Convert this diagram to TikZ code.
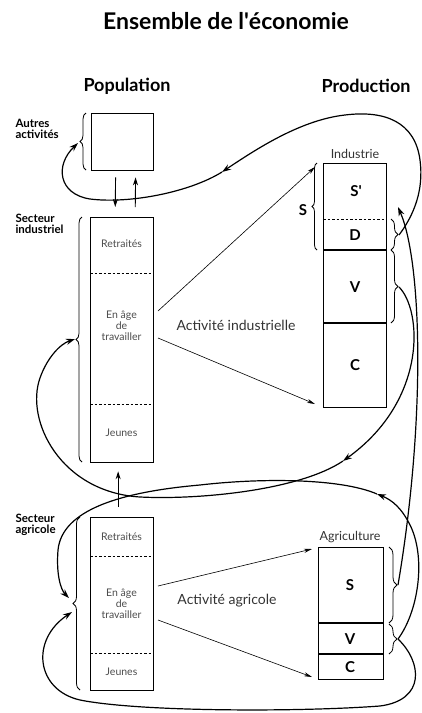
\documentclass[tikz,border=0pt]{standalone}
\usepackage{fontspec}
\setmainfont{Lato}
\usetikzlibrary{arrows.meta,decorations.pathreplacing}

\begin{document}
\begin{tikzpicture}[x=1pt,y=-1pt,
    box/.style={draw,line width=1.3pt,inner sep=0pt,anchor=north west},
    part/.style={font=\fontsize{10.5}{11}\selectfont,text=black!70,align=center},
    letter/.style={font=\fontsize{15}{15}\selectfont\bfseries},
    head/.style={font=\fontsize{18}{18}\selectfont\bfseries},
    sect/.style={font=\fontsize{11.5}{11}\selectfont\bfseries,align=left,anchor=west},
    small/.style={font=\fontsize{12.5}{12.5}\selectfont,text=black!80},
    cut/.style={line width=1pt,dash pattern=on 2.5pt off 2pt},
    brace/.style={decorate,decoration={brace,amplitude=#1},line width=0.8pt},
    flow/.style={line width=1.2pt,-{Stealth[length=9pt,width=6pt]}},
    move/.style={line width=0.9pt,-{Stealth[length=8pt,width=5pt]}},
    act/.style={line width=0.6pt,-{Stealth[length=8pt,width=4pt]}}]

                % Frame
                \useasboundingbox (0,0) rectangle (421,713);

                % Titles
                \node[font=\fontsize{23}{23}\selectfont\bfseries] (title) at (226,21) {Ensemble de l\textquotesingle économie};
                \node[head] (population) at (127,86) {Population};
                \node[head] (production) at (366,86) {Production};

                % Population
                \node[box,minimum width=62pt,minimum height=57pt] (autres) at (91,113) {};
                \node[box,minimum width=63pt,minimum height=245pt] (popind) at (90,217) {};
                \node[box,minimum width=63pt,minimum height=173pt] (popagr) at (90,517) {};
                \draw[cut] (90,273) -- (153,273);
                \draw[cut] (90,404) -- (153,404);
                \draw[cut] (90,556) -- (153,556);
                \draw[cut] (90,653) -- (153,653);
                \node[part] (retind) at (121.5,244) {Retraités};
                \node[part] (ageind) at (121.5,326) {En âge\\de\\travailler};
                \node[part] (jeuind) at (121.5,433) {Jeunes};
                \node[part] (retagr) at (121.5,537) {Retraités};
                \node[part] (ageagr) at (121.5,604) {En âge\\de\\travailler};
                \node[part] (jeuagr) at (121.5,672) {Jeunes};
                \node[sect] (lautres) at (12,129) {Autres\\activités};
                \node[sect] (lind) at (12,224) {Secteur\\industriel};
                \node[sect] (lagr) at (12,525) {Secteur\\agricole};
                \draw[brace=6pt] (86,170) -- (86,113);
                \draw[brace=6pt] (82,462) -- (82,217);
                \draw[brace=7pt] (80,690) -- (80,517);

                % Production
                \node[box,minimum width=63pt,minimum height=244pt] (ind) at (323,163) {};
                \node[box,minimum width=65pt,minimum height=132pt] (agr) at (318,547) {};
                \draw[cut] (323,219) -- (386,219);
                \draw[line width=1.3pt] (323,250) -- (386,250);
                \draw[line width=1.3pt] (323,323) -- (386,323);
                \draw[line width=1.3pt] (318,623) -- (383,623);
                \draw[line width=1.3pt] (318,654) -- (383,654);
                \node[small] (lindus) at (355,154) {Industrie};
                \node[small] (lagri) at (350,537) {Agriculture};
                \node[letter] (sp) at (356,191) {S\textquotesingle};
                \node[letter] (d) at (355,235) {D};
                \node[letter] (v) at (355,287) {V};
                \node[letter] (c) at (355,365) {C};
                \node[letter] (sa) at (350,585) {S};
                \node[letter] (va) at (350,639) {V};
                \node[letter] (ca) at (350,667) {C};
                \node[letter] (s) at (303,210) {S};
                \draw[brace=5pt] (317,250) -- (317,163);
                \draw[brace=7pt] (391,219) -- (391,250);
                \draw[brace=7pt] (391,250) -- (391,323);
                \draw[brace=8pt] (389,547) -- (389,623);
                \draw[brace=8pt] (389,624) -- (389,654);

                % Ends of the flows
                \coordinate (auttip) at (78,143);
                \coordinate (indtip) at (75,339);
                \coordinate (agtipa) at (69,598);
                \coordinate (agtipb) at (72,612);
                \coordinate (dtip) at (399,235);
                \coordinate (vtip) at (399,287);
                \coordinate (sin) at (398,207);
                \coordinate (satip) at (398,585);
                \coordinate (vatip) at (398,639);
                \coordinate (m1) at (222,172);
                \coordinate (m2) at (343,461);
                \coordinate (m4) at (377,494);

                % Activities
                \node[font=\fontsize{14}{14}\selectfont,text=black!80] (actind) at (236,325) {Activité industrielle};
                \node[font=\fontsize{14}{14}\selectfont,text=black!80] (actagr) at (227,601) {Activité agricole};
                \draw[act] (158,311) -- (315,167);
                \draw[act] (158,338) -- (315,404);
                \draw[act] (158,586) -- (312,549);
                \draw[act] (158,620) -- (312,677);

                % Moves of population
                \draw[move,shorten <=6pt,shorten >=10pt] ([xshift=-7pt]autres.south) -- ([xshift=-7pt]popind.north);
                \draw[move,shorten <=10pt,shorten >=6pt] ([xshift=13pt]popind.north) -- ([xshift=13pt]autres.south);
                \draw[move,shorten <=10pt,shorten >=8pt] ([xshift=-4pt]popagr.north) -- ([xshift=-4pt]popind.south);

                % Flows
                \draw[flow] (dtip) .. controls (414,215) and (424,190) .. (420,160) .. controls (415,122) and (385,110) .. (345,115) .. controls (300,120) and (255,150) .. (m1);
                \draw[flow] (m1) .. controls (190,192) and (130,204) .. (90,199) .. controls (58,194) and (55,165) .. (auttip);
                \draw[flow] (vtip) .. controls (422,310) and (428,400) .. (m2);
                \draw[flow] (m2) .. controls (300,490) and (200,500) .. (140,497) .. controls (60,492) and (25,420) .. (40,378) .. controls (47,358) and (60,344) .. (indtip);
                \draw[flow] (satip) .. controls (426,420) and (422,262) .. (sin);
                \draw[flow] (vatip) .. controls (418,612) and (426,560) .. (411,527) .. controls (402,508) and (392,500) .. (m4);
                \draw[flow] (m4) .. controls (340,478) and (260,478) .. (200,485) .. controls (120,492) and (62,510) .. (58,550) .. controls (56,575) and (61,590) .. (agtipa);
                \draw[flow] (vatip) .. controls (422,662) and (426,700) .. (380,706) .. controls (300,712) and (140,712) .. (80,700) .. controls (36,690) and (30,640) .. (agtipb);
            \end{tikzpicture}
\end{document}
